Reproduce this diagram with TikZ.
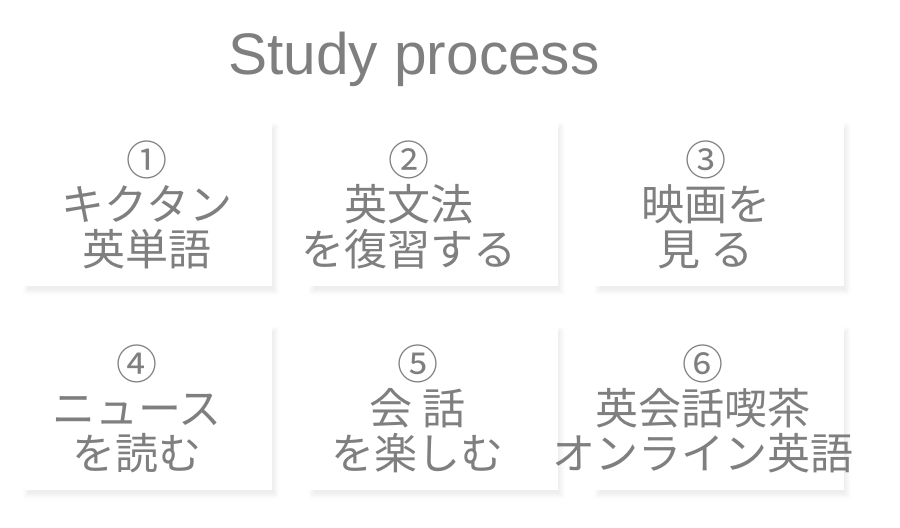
\documentclass[tikz,border=0pt]{standalone}
\usepackage{fontspec}
\setmainfont{Liberation Sans}
\newfontfamily\jpfont{Noto Sans CJK JP}
\usetikzlibrary{positioning,shadows.blur}
\definecolor{txtgray}{HTML}{7F7F7F}

\begin{document}
\begin{tikzpicture}[x=0.5pt,y=-0.5pt,node distance=18.5pt and 17.5pt]
\tikzstyle{card}=[fill=white,minimum width=125pt,minimum height=83pt,inner sep=0pt,blur shadow={shadow xshift=2pt,shadow yshift=-3pt,shadow blur radius=2pt,shadow opacity=7}]
\tikzstyle{words}=[text=txtgray,font=\jpfont\fontsize{21.5}{22.5}\selectfont,align=center,inner sep=0pt]
\newcommand{\circnum}[1]{{\fontsize{20.5}{20.5}\selectfont #1}\\[0pt]}

  \useasboundingbox (0,0) rectangle (900,528);

  \node[text=txtgray,font=\fontsize{29.3}{29.3}\selectfont,anchor=base] (head) at (414,75) {Study process};

  \node[card]         (c1) at (147,203)  {};
  \node[card]         (c2) [right=of c1] {};
  \node[card]         (c3) [right=of c2] {};
  \node[card]         (c4) [below=of c1] {};
  \node[card]         (c5) [right=of c4] {};
  \node[card]         (c6) [right=of c5] {};

  \node[words] (t1) at ([yshift=-1pt]c1.center)              {\circnum{①}キクタン\\英単語};
  \node[words] (t2) at ([xshift=-12pt,yshift=-1pt]c2.center) {\circnum{②}英文法\\を復習する};
  \node[words] (t3) at ([xshift=-6.5pt,yshift=-1pt]c3.center) {\circnum{③}映画を\\見 る};
  \node[words] (t4) at ([xshift=-5pt,yshift=-1pt]c4.center)  {\circnum{④}ニュース\\を読む};
  \node[words] (t5) at ([xshift=-7.5pt,yshift=-1pt]c5.center) {\circnum{⑤}会 話\\を楽しむ};
  \node[words] (t6) at ([xshift=-8pt,yshift=-1pt]c6.center)  {\circnum{⑥}英会話喫茶\\オンライン英語};
\end{tikzpicture}
\end{document}
